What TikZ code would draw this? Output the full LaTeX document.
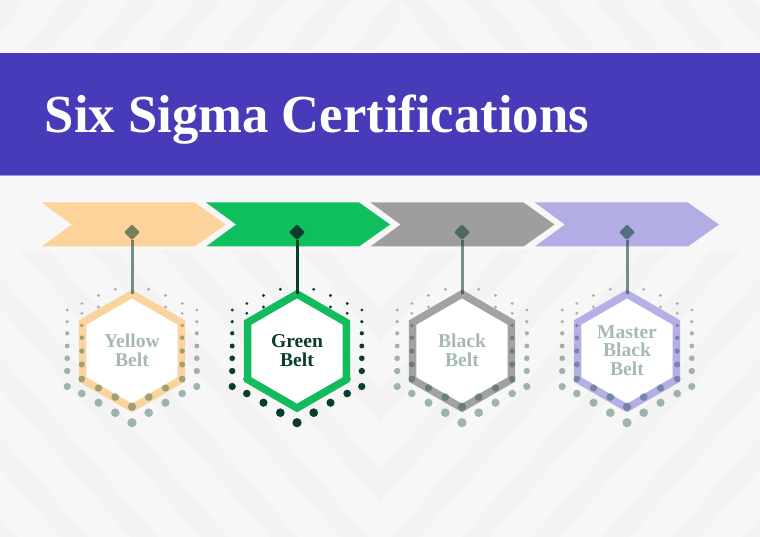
\documentclass[tikz,border=0pt]{standalone}
\usepackage{fontspec}
\setmainfont{Liberation Serif}
\newfontfamily\titlefont[FakeStretch=0.984]{Liberation Serif}
\usetikzlibrary{shapes.geometric}
\definecolor{bg}{HTML}{F7F7F7}
\definecolor{band}{HTML}{E2E2E2}
\definecolor{banner}{RGB}{72,59,186}
\definecolor{dkgreen}{HTML}{0B3D2C}
\definecolor{cyellow}{HTML}{FCD39A}
\definecolor{cgreen}{HTML}{0FBE5D}
\definecolor{cgray}{HTML}{9E9E9E}
\definecolor{cpurple}{HTML}{B2ADE5}
\definecolor{hyellow}{HTML}{FAD49C}
\definecolor{hgreen}{HTML}{12BB5C}
\definecolor{hgray}{HTML}{A2A2A2}
\definecolor{hpurple}{HTML}{B5AFE6}
\definecolor{fadetext}{HTML}{A6BAB2}
\newcommand\dotsside{16.7/-60.7,16.7/47,16.7/62.7,
 33.5/-54.5,33.5/-43,33.5/38,33.5/52.7,
 50.2/-46.5,50.2/-36.7,50.2/-24.5,50.2/-12.3,50.2/1,50.2/14.5,50.2/29,50.2/43.5,
 64.8/-40,64.8/-28.3,64.8/-16.7,64.8/-4,64.8/8.3,64.8/21,64.8/36.5}
\newcommand\hexdots[2]{%
  \foreach \dx/\dy in \dotsside {%
    \pgfmathsetmacro\rr{max(1.55,2.6+0.028*(\dy))}%
    \fill[dkgreen,fill opacity=#2] ({#1+\dx},{350+\dy}) circle[radius=\rr pt];
    \fill[dkgreen,fill opacity=#2] ({#1-\dx},{350+\dy}) circle[radius=\rr pt];
  }%
  \foreach \dy in {56.7,72.7} {%
    \pgfmathsetmacro\rr{max(1.55,2.6+0.028*(\dy))}%
    \fill[dkgreen,fill opacity=#2] ({#1},{350+\dy}) circle[radius=\rr pt];
  }%
}
\newcommand\hexpath[1]{({#1},294) -- ({#1+49.36},322.5) -- ({#1+49.36},379.5) -- ({#1},408) -- ({#1-49.36},379.5) -- ({#1-49.36},322.5) -- cycle}
\tikzset{
  hexring/.style={draw=#1, fill=white, line width=7.5pt, line join=miter},
  hexlabel/.style={font=\bfseries\fontsize{19.6}{18.5}\selectfont, align=center, inner sep=0pt},
  pinbox/.style={shape=diamond, minimum width=16pt, minimum height=16pt, inner sep=0pt, rounded corners=1.2pt, draw=none},
}
\begin{document}
\begin{tikzpicture}[x=1pt,y=-1pt]
\useasboundingbox (0,0) rectangle (760,537);
% background
\fill[bg] (0,0) rectangle (760,537);
\begin{scope}
  \clip (0,250) rectangle (380,537);
  \foreach \s in {-330,-260,...,300} {
    \fill[band,fill opacity=0.16] (\s,250) -- ++(28,0) -- ++(250,287) -- ++(-28,0) -- cycle;
  }
\end{scope}
\begin{scope}
  \clip (380,250) rectangle (760,537);
  \foreach \s in {-330,-260,...,300} {
    \fill[band,fill opacity=0.16] ({760-\s},250) -- ++(-28,0) -- ++(-250,287) -- ++(28,0) -- cycle;
  }
\end{scope}
\begin{scope}
  \clip (0,0) rectangle (400,50);
  \foreach \s in {0,65,...,400} {
    \fill[band,fill opacity=0.18] (\s,0) -- ++(26,0) -- ++(-40,50) -- ++(-26,0) -- cycle;
  }
\end{scope}
\begin{scope}
  \clip (400,0) rectangle (760,50);
  \foreach \s in {400,465,...,800} {
    \fill[band,fill opacity=0.18] (\s,0) -- ++(26,0) -- ++(40,50) -- ++(-26,0) -- cycle;
  }
\end{scope}
% banner
\draw[white,line width=1.5pt] (0,50.5) -- (760,50.5);
\fill[banner] (0,53) rectangle (760,175);
\draw[banner!55,line width=1.2pt] (0,175.6) -- (760,175.6);
\node[anchor=base west, text=white, font=\titlefont\bfseries\fontsize{53.5}{60}\selectfont, inner sep=0pt] (title) at (44.6,132.7) {Six Sigma Certifications};
% chevrons
\foreach \i/\c in {0/cyellow,1/cgreen,2/cgray,3/cpurple} {
  \pgfmathsetmacro\L{41.7+164.4*\i}
  \fill[\c] (\L,202.5) -- ++(153,0) -- ++(31,22) -- ++(-31,22) -- ++(-153,0) -- ++(30,-22) -- cycle;
}
% belts
\foreach \i/\cx/\hc/\mode/\txt/\tc/\op in {
   1/132/hyellow/0/{Yellow\\Belt}/fadetext/0.55,
   2/297/hgreen/1/{Green\\Belt}/dkgreen/1,
   3/462/hgray/0/{Black\\Belt}/fadetext/0.55,
   4/627/hpurple/0/{Master\\Black\\Belt}/fadetext/0.55} {
  \ifnum\mode=1
    \hexdots{\cx}{1}
    \draw[hexring=\hc] \hexpath{\cx};
  \else
    \draw[hexring=\hc] \hexpath{\cx};
    \hexdots{\cx}{0.36}
  \fi
  \coordinate (top\i) at (\cx,294);
  \node[pinbox, fill=dkgreen, fill opacity=\op] (d\i) at (\cx,232.3) {};
  \draw[dkgreen, draw opacity=\op, line width=3pt] (d\i.south) -- (top\i);
  \node[hexlabel, text=\tc] (t\i) at (\cx,350.5) {\txt};
}
\end{tikzpicture}
\end{document}
